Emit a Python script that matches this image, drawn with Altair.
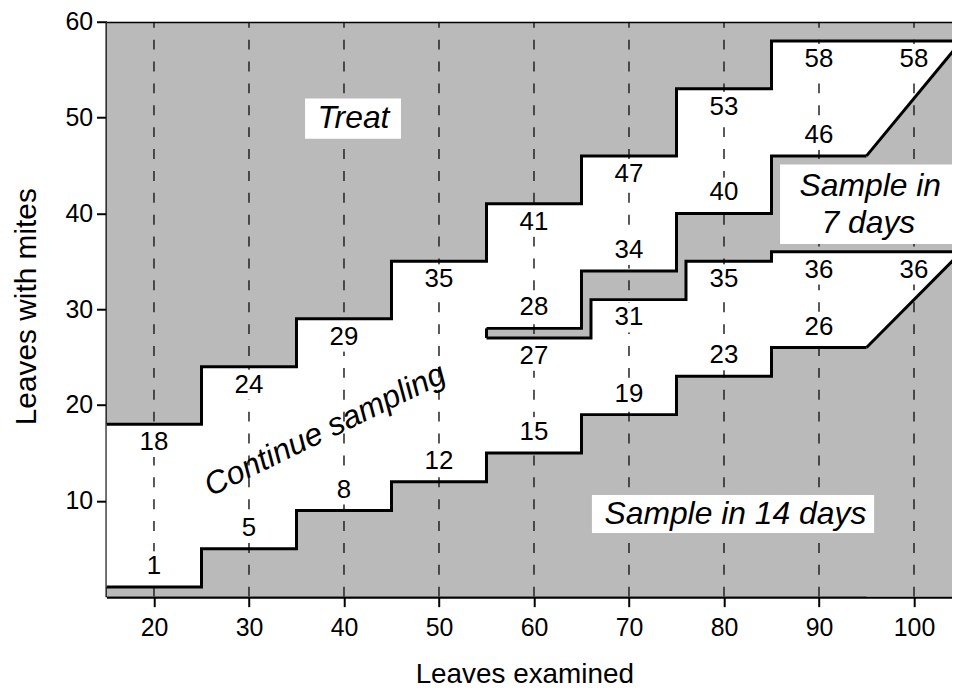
import altair as alt
import pandas as pd

# ---------------- data ----------------
X_DOMAIN = [15, 104]
Y_DOMAIN = [0, 60]
X_END = 106          # boundaries run on past the right edge (clipped)

x_ticks = [20, 30, 40, 50, 60, 70, 80, 90, 100]
y_ticks = [10, 20, 30, 40, 50, 60]

# upper (Treat) boundary, step-after
treat_x = [15, 25, 35, 45, 55, 65, 75, 85, X_END]
treat_y = [18, 24, 29, 35, 41, 46, 53, 58, 58]
# lower (Sample in 14 days) boundary, step-after
low_x = [15, 25, 35, 45, 55, 65, 75, 85, 95]
low_y = [1, 5, 9, 12, 15, 19, 23, 26, 26]
# 7-day band, upper edge
band_top_x = [55, 65, 75, 85, 95]
band_top_y = [28, 34, 40, 46, 46]
# 7-day band, lower edge
band_bot_x = [55, 66, 76, 85, X_END]
band_bot_y = [27, 31, 35, 36, 36]
# sloping ends
diag_x = [95, 105]
up_diag_y = [46, 58]
low_diag_y = [26, 36]

# number labels
treat_lab_x = [20, 30, 40, 50, 60, 70, 80, 90, 100]
treat_lab_t = ["18", "24", "29", "35", "41", "47", "53", "58", "58"]
low_lab_x = [20, 30, 40, 50, 60, 70, 80, 90]
low_lab_t = ["1", "5", "8", "12", "15", "19", "23", "26"]
btop_lab_x = [60, 70, 80, 90]
btop_lab_t = ["28", "34", "40", "46"]
bbot_lab_x = [60, 70, 80, 90, 100]
bbot_lab_t = ["27", "31", "35", "36", "36"]

# region annotations
reg_text = ["Treat", "Continue sampling", "Sample in", "7 days", "Sample in 14 days"]
reg_x = [41.0, 38.0, 95.4, 95.2, 81.2]
reg_y = [49.9, 17.4, 42.9, 39.0, 8.6]
reg_angle = [0, 334, 0, 0, 0]
box_x = [35.9, 85.9, 66.1]
box_x2 = [46.0, 106.0, 95.8]
box_y = [47.8, 36.8, 6.65]
box_y2 = [52.0, 45.1, 10.6]

GRAY = "#bababa"
FONT = "Liberation Sans"


def step_at(xs, ys, x):
    v = ys[0]
    for xi, yi in zip(xs, ys):
        if x >= xi:
            v = yi
    return v


# ---------------- tables ----------------
split = band_bot_x[0]
lo_xs = sorted(set([x for x in treat_x if x < split] + low_x + band_bot_x))
lower_white = pd.DataFrame({
    "x": lo_xs,
    "y": [step_at(low_x, low_y, x) for x in lo_xs],
    "y2": [step_at(treat_x, treat_y, x) if x < split else step_at(band_bot_x, band_bot_y, x) for x in lo_xs],
})
# upper white region starts one step earlier so it overlaps the lower one (no seam)
prev = max(x for x in treat_x if x < split)
up_xs = sorted(set([prev] + [x for x in treat_x if x >= split] + band_top_x))
upper_white = pd.DataFrame({
    "x": up_xs,
    "y": [step_at(band_top_x, band_top_y, x) for x in up_xs],
    "y2": [step_at(treat_x, treat_y, x) for x in up_xs],
})
tri = pd.DataFrame({
    "x": diag_x + diag_x,
    "y": up_diag_y + low_diag_y,
    "y2": [band_bot_y[-1]] * 2 + [Y_DOMAIN[0]] * 2,
    "g": ["u", "u", "l", "l"],
})
bg = pd.DataFrame({"x": [X_DOMAIN[0]], "x2": [X_END], "y": [Y_DOMAIN[0]], "y2": [Y_DOMAIN[1]]})
grid = pd.DataFrame({"x": x_ticks, "y": [Y_DOMAIN[0]] * len(x_ticks), "y2": [Y_DOMAIN[1]] * len(x_ticks)})

step_lines = pd.concat([
    pd.DataFrame({"x": treat_x, "y": treat_y, "g": "treat"}),
    pd.DataFrame({"x": low_x, "y": low_y, "g": "low"}),
    pd.DataFrame({"x": band_top_x, "y": band_top_y, "g": "btop"}),
    pd.DataFrame({"x": band_bot_x, "y": band_bot_y, "g": "bbot"}),
])
diag_lines = pd.DataFrame({"x": diag_x + diag_x, "y": up_diag_y + low_diag_y, "g": ["u", "u", "l", "l"]})
band_edge = pd.DataFrame({"x": [band_top_x[0]], "y": [band_bot_y[0]], "y2": [band_top_y[0]]})
top_frame = pd.DataFrame({"x": [X_DOMAIN[0]], "x2": [X_END], "y": [Y_DOMAIN[1]]})

below = pd.DataFrame({
    "x": treat_lab_x + bbot_lab_x,
    "y": [step_at(treat_x, treat_y, x) for x in treat_lab_x] + [step_at(band_bot_x, band_bot_y, x) for x in bbot_lab_x],
    "t": treat_lab_t + bbot_lab_t,
})
above = pd.DataFrame({
    "x": low_lab_x + btop_lab_x,
    "y": [step_at(low_x, low_y, x) for x in low_lab_x] + [step_at(band_top_x, band_top_y, x) for x in btop_lab_x],
    "t": low_lab_t + btop_lab_t,
})
regions = pd.DataFrame({"x": reg_x, "y": reg_y, "t": reg_text, "a": reg_angle})
boxes = pd.DataFrame({"x": box_x, "x2": box_x2, "y": box_y, "y2": box_y2})

# ---------------- scales / axes ----------------
xscale = alt.Scale(domain=X_DOMAIN, nice=False, zero=False)
yscale = alt.Scale(domain=Y_DOMAIN, nice=False, zero=False)
xaxis = alt.Axis(values=x_ticks, grid=False, domainWidth=3, domainColor="black",
                 tickColor="black", tickWidth=2, tickSize=10, labelFont=FONT,
                 labelFontSize=25, labelColor="black", labelPadding=9,
                 titleFont=FONT, titleFontSize=28, titleFontWeight="normal",
                 titleColor="black", titleX=420, titleY=78, titleBaseline="middle",
                 titleAlign="center")
yaxis = alt.Axis(values=y_ticks, grid=False, domainWidth=3, domainColor="black",
                 tickColor="black", tickWidth=2, tickSize=10, labelFont=FONT,
                 labelFontSize=25, labelColor="black", labelPadding=4,
                 titleFont=FONT, titleFontSize=30, titleFontWeight="normal",
                 titleColor="black", titleX=-80, titleY=286, titleBaseline="middle",
                 titleAlign="center", titleAngle=270)


def X(f="x"):
    return alt.X(f"{f}:Q", scale=xscale, axis=xaxis, title="Leaves examined")


def Y(f="y"):
    return alt.Y(f"{f}:Q", scale=yscale, axis=yaxis, title="Leaves with mites")


base_bg = alt.Chart(bg).mark_rect(color=GRAY, clip=True).encode(
    x=X(), x2="x2:Q", y=Y(), y2="y2:Q")
lw = alt.Chart(lower_white).mark_area(color="white", interpolate="step-after", clip=True).encode(
    x=X(), y=Y(), y2="y2:Q")
uw = alt.Chart(upper_white).mark_area(color="white", interpolate="step-after", clip=True).encode(
    x=X(), y=Y(), y2="y2:Q")
tris = alt.Chart(tri).mark_area(color=GRAY, clip=True).encode(
    x=X(), y=Y(), y2="y2:Q", detail="g:N")
grid_l = alt.Chart(grid).mark_rule(color="#222", strokeWidth=1.5, strokeDash=[10, 12], clip=True).encode(
    x=X(), y=Y(), y2="y2:Q")
box_l = alt.Chart(boxes).mark_rect(color="white", clip=True).encode(
    x=X(), x2="x2:Q", y=Y(), y2="y2:Q")
sq_below = alt.Chart(below).mark_square(color="white", opacity=1, size=900, yOffset=18).encode(
    x=X(), y=Y())
sq_above = alt.Chart(above).mark_square(color="white", opacity=1, size=900, yOffset=-21).encode(
    x=X(), y=Y())
steps = alt.Chart(step_lines).mark_line(color="black", strokeWidth=3, interpolate="step-after", clip=True).encode(
    x=X(), y=Y(), detail="g:N")
diags = alt.Chart(diag_lines).mark_line(color="black", strokeWidth=3, clip=True).encode(
    x=X(), y=Y(), detail="g:N")
edge = alt.Chart(band_edge).mark_rule(color="black", strokeWidth=3).encode(
    x=X(), y=Y(), y2="y2:Q")
frame = alt.Chart(top_frame).mark_rule(color="black", strokeWidth=3, clip=True).encode(
    x=X(), x2="x2:Q", y=Y())
txt_below = alt.Chart(below).mark_text(font=FONT, fontSize=26, color="black", yOffset=18).encode(
    x=X(), y=Y(), text="t:N")
txt_above = alt.Chart(above).mark_text(font=FONT, fontSize=26, color="black", yOffset=-21).encode(
    x=X(), y=Y(), text="t:N")
reg_txt = alt.Chart(regions).mark_text(font=FONT, fontSize=32, fontStyle="italic", color="black").encode(
    x=X(), y=Y(), text="t:N", angle=alt.Angle("a:Q", scale=None))

chart = alt.layer(
    base_bg, lw, uw, tris, grid_l, box_l, sq_below, sq_above,
    steps, diags, edge, frame, txt_below, txt_above, reg_txt,
).properties(
    width=850, height=578,
    padding={"left": 99, "top": 12, "right": 0, "bottom": 93},
    autosize=alt.AutoSizeParams(type="none"),
    background="white",
).configure_view(stroke=None)

chart.save("out.html", embed_options={"renderer": "svg", "actions": False})
